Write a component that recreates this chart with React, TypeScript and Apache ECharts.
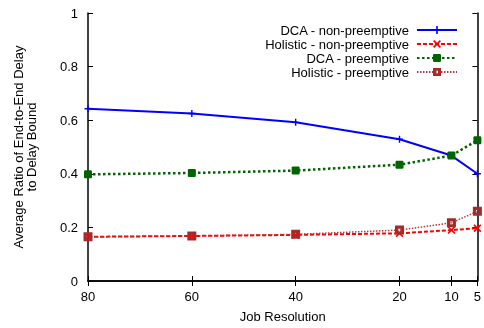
import React, { useEffect, useRef } from "react";
import * as echarts from "echarts";

const jobResolution = [80, 60, 40, 20, 10, 5];
const xTickValues = [80, 60, 40, 20, 10, 5];
const dcaNonPreemptive = [0.643, 0.625, 0.592, 0.529, 0.468, 0.4];
const holisticNonPreemptive = [0.165, 0.168, 0.172, 0.178, 0.19, 0.197];
const dcaPreemptive = [0.398, 0.403, 0.412, 0.434, 0.468, 0.525];
const holisticPreemptive = [0.165, 0.168, 0.174, 0.19, 0.217, 0.26];

const seriesNames = [
  "DCA - non-preemptive",
  "Holistic - non-preemptive",
  "DCA - preemptive",
  "Holistic - preemptive",
];

const FONT = "'Liberation Sans', Arial, Helvetica, sans-serif";

const plusPath = "path://M4,0H6V4H10V6H6V10H4V6H0V4H4Z";
const crossPath =
  "path://M1.5,0L5,3.5L8.5,0L10,1.5L6.5,5L10,8.5L8.5,10L5,6.5L1.5,10L0,8.5L3.5,5L0,1.5Z";
const boxPath = "path://M0,0H10V10H0Z M3.5,3.5V6.5H6.5V3.5Z";
const roundSquare = "path://M1,0H9L10,1V9L9,10H1L0,9V1Z";

function pairs(vals: number[]) {
  return jobResolution.map((x, i) => [x, vals[i]]);
}

export default function App() {
  const ref = useRef<HTMLDivElement>(null);
  useEffect(() => {
    if (!ref.current) return;
    document.body.style.margin = "0";
    document.body.style.overflow = "hidden";
    const chart = echarts.init(ref.current, null, { renderer: "svg" });
    const axisLine = { show: true, lineStyle: { color: "#000", width: 1.5 } };
    const tick = {
      inside: true,
      length: 5,
      lineStyle: { color: "#000", width: 1 },
    };
    chart.setOption({
      animation: false,
      textStyle: { fontFamily: FONT },
      grid: { left: 88, right: 4, top: 13, bottom: 43 },
      legend: {
        orient: "vertical",
        right: 21,
        top: 18,
        align: "right",
        itemWidth: 40,
        itemHeight: 10,
        itemGap: 0,
        textStyle: {
          fontFamily: FONT,
          fontSize: 13,
          color: "#000",
          lineHeight: 14,
          padding: [0, 3, 0, 0],
        },
        data: seriesNames,
      },
      xAxis: [
        {
          type: "value",
          min: 5,
          max: 80,
          inverse: true,
          name: "Job Resolution",
          nameLocation: "middle",
          nameGap: 29,
          nameTextStyle: { fontFamily: FONT, fontSize: 13, color: "#000" },
          axisLine,
          splitLine: { show: false },
          axisTick: { ...tick, customValues: xTickValues },
          axisLabel: {
            customValues: xTickValues,
            fontFamily: FONT,
            fontSize: 13,
            color: "#000",
            margin: 9,
          },
        },
        {
          type: "value",
          min: 5,
          max: 80,
          inverse: true,
          position: "top",
          axisLine,
          splitLine: { show: false },
          axisTick: { ...tick, customValues: xTickValues },
          axisLabel: { show: false },
        },
      ],
      yAxis: [
        {
          type: "value",
          min: 0,
          max: 1,
          interval: 0.2,
          name: "Average Ratio of End-to-End Delay\nto Delay Bound",
          nameLocation: "middle",
          nameGap: 50,
          nameTextStyle: {
            fontFamily: FONT,
            fontSize: 13,
            color: "#000",
            lineHeight: 13,
          },
          axisLine,
          splitLine: { show: false },
          axisTick: tick,
          axisLabel: {
            fontFamily: FONT,
            fontSize: 13,
            color: "#000",
            margin: 10,
            formatter: (v: number) => String(Math.round(v * 10) / 10),
          },
        },
        {
          type: "value",
          min: 0,
          max: 1,
          interval: 0.2,
          position: "right",
          axisLine,
          splitLine: { show: false },
          axisTick: tick,
          axisLabel: { show: false },
        },
      ],
      series: [
        {
          name: seriesNames[0],
          type: "line",
          data: pairs(dcaNonPreemptive),
          symbol: plusPath,
          symbolSize: 7,
          itemStyle: { color: "#0000ff" },
          lineStyle: { color: "#0000ff", width: 2 },
        },
        {
          name: seriesNames[1],
          type: "line",
          data: pairs(holisticNonPreemptive),
          symbol: crossPath,
          symbolSize: 8,
          itemStyle: { color: "#ff0000" },
          lineStyle: { color: "#ff0000", width: 2, type: [4, 2] },
        },
        {
          name: seriesNames[2],
          type: "line",
          data: pairs(dcaPreemptive),
          symbol: roundSquare,
          symbolSize: 8,
          itemStyle: { color: "#006400" },
          lineStyle: { color: "#006400", width: 2.5, type: [2.5, 2.5] },
        },
        {
          name: seriesNames[3],
          type: "line",
          data: pairs(holisticPreemptive),
          symbol: boxPath,
          symbolSize: 9,
          itemStyle: { color: "#a52a2a" },
          lineStyle: { color: "#b03a3a", width: 1.5, type: [1.5, 1.5] },
        },
      ],
    });
    return () => chart.dispose();
  }, []);
  return (
    <div
      ref={ref}
      style={{ position: "fixed", left: 0, top: 0, width: 484, height: 328 }}
    />
  );
}
